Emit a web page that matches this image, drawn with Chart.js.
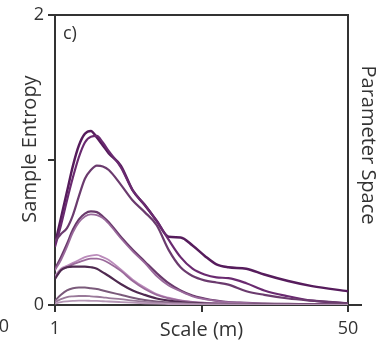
<!DOCTYPE html>
<html><head><meta charset="utf-8">
<script src="https://cdn.jsdelivr.net/npm/chart.js@4/dist/chart.umd.min.js"></script>
<style>html,body{margin:0;padding:0;background:#fff;}#wrap{position:relative;width:384px;height:347px;}</style>
</head><body><div id="wrap"><canvas id="c" width="384" height="347"></canvas></div>
<script>
// Scale (m) sample positions
const scales = [1,2,3,4,5,6,7,8,9,10,12,14,16,18,20,22,24,26,28,30,33,36,40,44,50];
const xTicks = [1,25.5,50];
const xTickLabels = {1:'1',50:'50'};
const yTicks = [0,1,2];
const yTickLabels = {0:'0',2:'2'};
// Sample entropy curves
const c1  = [0.42,0.60,0.78,0.96,1.10,1.18,1.20,1.155,1.10,1.045,0.96,0.79,0.69,0.58,0.47,0.465,0.41,0.34,0.28,0.26,0.25,0.21,0.165,0.13,0.095];
const c2  = [0.40,0.55,0.72,0.88,1.02,1.12,1.16,1.165,1.12,1.06,0.95,0.79,0.69,0.58,0.45,0.33,0.25,0.21,0.19,0.185,0.15,0.10,0.06,0.03,0.012];
const c3  = [0.44,0.49,0.53,0.62,0.75,0.87,0.93,0.96,0.955,0.93,0.83,0.72,0.64,0.55,0.38,0.26,0.20,0.17,0.155,0.14,0.095,0.07,0.045,0.03,0.012];
const c4  = [0.25,0.33,0.42,0.52,0.59,0.63,0.645,0.64,0.61,0.57,0.47,0.38,0.30,0.22,0.15,0.10,0.065,0.045,0.03,0.02,0.015,0.01,0.008,0.005,0.003];
const c4b = [0.24,0.31,0.40,0.50,0.57,0.61,0.625,0.62,0.60,0.56,0.46,0.37,0.29,0.20,0.135,0.095,0.06,0.04,0.028,0.02,0.014,0.01,0.007,0.005,0.003];
const c5  = [0.20,0.25,0.27,0.29,0.31,0.33,0.34,0.345,0.33,0.31,0.245,0.175,0.12,0.075,0.05,0.032,0.022,0.016,0.012,0.009,0.007,0.005,0.004,0.003,0.002];
const c6  = [0.19,0.24,0.26,0.28,0.295,0.31,0.32,0.32,0.31,0.29,0.235,0.165,0.11,0.07,0.045,0.03,0.02,0.015,0.011,0.008,0.006,0.005,0.004,0.003,0.002];
const c7  = [0.18,0.24,0.26,0.265,0.265,0.265,0.26,0.25,0.225,0.20,0.145,0.10,0.07,0.045,0.03,0.02,0.014,0.01,0.008,0.006,0.005,0.004,0.003,0.002,0.002];
const c8  = [0.03,0.07,0.10,0.115,0.12,0.12,0.115,0.11,0.10,0.09,0.07,0.05,0.035,0.025,0.018,0.013,0.01,0.008,0.006,0.005,0.004,0.003,0.002,0.002,0.001];
const c9  = [0.02,0.04,0.055,0.06,0.062,0.062,0.06,0.057,0.053,0.048,0.04,0.03,0.022,0.016,0.012,0.009,0.007,0.005,0.004,0.003,0.003,0.002,0.002,0.001,0.001];
const c10 = [0.01,0.02,0.025,0.028,0.03,0.03,0.029,0.028,0.026,0.024,0.02,0.016,0.012,0.009,0.007,0.005,0.004,0.003,0.003,0.002,0.002,0.001,0.001,0.001,0.001];

const curves = [c10,c9,c8,c7,c6,c5,c4b,c4,c3,c2,c1];
const colors = ['#b596b5','#9a7a9a','#7a5a7a','#4f2a50','#9b6a9b','#bb8cbb','#9a6a9c','#6a3a6c','#6b3b6e','#6a2a70','#561c5c'];
const widths = [1.8,1.8,2,2.2,1.8,1.8,1.8,2.2,2.2,2.2,2.5];

const FONT = "'Open Sans', 'DejaVu Sans', sans-serif";
const TXT = '#333';

const extras = {
  id:'extras',
  afterDraw(chart){
    const {ctx, chartArea:a} = chart;
    ctx.save();
    ctx.strokeStyle = TXT; ctx.lineWidth = 2;
    ctx.beginPath(); ctx.moveTo(a.right, a.bottom); ctx.lineTo(362, a.bottom); ctx.stroke();
    ctx.fillStyle = TXT;
    ctx.font = "20px " + FONT;
    ctx.textAlign = 'center'; ctx.textBaseline = 'middle';
    ctx.save(); ctx.translate(30, 149); ctx.rotate(-Math.PI/2); ctx.fillText('Sample Entropy', 0, 0); ctx.restore();
    ctx.save(); ctx.translate(368, 145); ctx.rotate(Math.PI/2); ctx.fillText('Parameter Space', 0, 0); ctx.restore();
    ctx.font = "18px " + FONT;
    ctx.textAlign = 'left';
    ctx.fillText('c)', 63, 34);
    ctx.textAlign = 'center';
    ctx.fillText('0', 4, 327);
    ctx.restore();
  }
};

const datasets = curves.map((d,i)=>({
  data: scales.map((s,j)=>({x:s, y:d[j]})),
  borderColor: colors[i], borderWidth: widths[i],
  pointRadius: 0, fill:false, cubicInterpolationMode:'monotone'
}));

const gridOpts = {drawOnChartArea:false, drawTicks:true, tickLength:7, color:TXT, lineWidth:2};
new Chart(document.getElementById('c'), {
  type:'line',
  data:{datasets},
  options:{
    responsive:false, devicePixelRatio:1, animation:false,
    layout:{padding:0},
    plugins:{legend:{display:false}, tooltip:{enabled:false}},
    scales:{
      x:{type:'linear', position:'bottom', min:1, max:50,
        afterBuildTicks:s=>{s.ticks = xTicks.map(v=>({value:v}));},
        afterFit:s=>{s.height = 42;},
        ticks:{callback:v=>xTickLabels[v]||'', font:{size:18, family:FONT}, color:TXT, padding:6, maxRotation:0, autoSkip:false},
        grid:gridOpts, border:{display:true, color:TXT, width:2},
        title:{display:true, text:'Scale (m)', font:{size:20, family:FONT}, color:TXT, padding:{top:0,bottom:5}}
      },
      x2:{type:'linear', position:'top', min:1, max:50,
        afterFit:s=>{s.height = 14;},
        ticks:{display:false}, grid:{drawOnChartArea:false, drawTicks:false}, border:{display:true, color:TXT, width:2}
      },
      y:{type:'linear', position:'left', min:0, max:2,
        afterBuildTicks:s=>{s.ticks = yTicks.map(v=>({value:v}));},
        afterFit:s=>{s.width = 55;},
        ticks:{callback:v=>yTickLabels[v]||'', font:{size:18, family:FONT}, color:TXT, padding:4},
        grid:gridOpts, border:{display:true, color:TXT, width:2}
      },
      y2:{type:'linear', position:'right', min:0, max:2,
        afterFit:s=>{s.width = 36;},
        ticks:{display:false}, grid:{drawOnChartArea:false, drawTicks:false}, border:{display:true, color:TXT, width:2}
      }
    }
  },
  plugins:[extras]
});
</script></body></html>
